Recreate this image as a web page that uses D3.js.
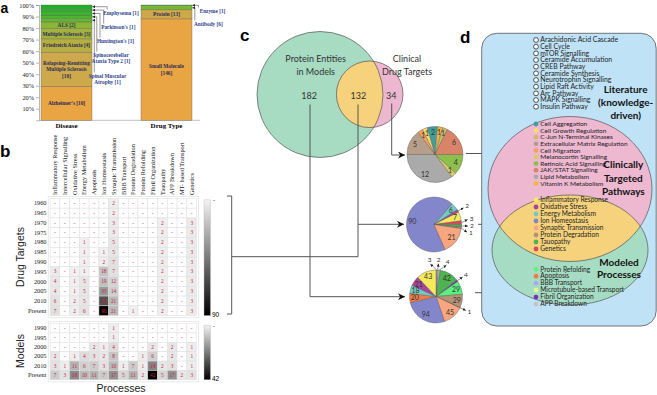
<!DOCTYPE html>
<html lang="en">
<head>
<meta charset="UTF-8">
<title>Disease models, drug targets and processes</title>
<script src="https://d3js.org/d3.v7.min.js"></script>
<style>
  body { margin: 0; background: #fff; }
  svg { display: block; }
</style>
</head>
<body>
<svg id="fig" width="657" height="395"></svg>
<script>
// ---- panel a data ----
const stackLabels = ["Disease", "Drug Type"];
const diseaseNames = ["Alzheimer's", "Relapsing-Remitting\nMultiple Sclerosis\n", "Friedreich Ataxia", "Multiple Sclerosis", "ALS",
  "Spinal Muscular\nAtrophy", "Spinocerebellar\nAtaxia Type 2", "Huntington's", "Parkinson's", "Emphysema"];
const diseaseCounts = [10, 10, 4, 3, 2, 1, 1, 1, 1, 1];
const drugTypeNames = ["Small Molecule\n", "Protein", "Antibody", "Enzyme"];
const drugTypeCounts = [146, 13, 6, 1];

// ---- panel b data ----
const processes = ["Inflammatory Response", "Intercellular Signalling", "Oxidative Stress", "Energy Metabolism", "Apoptosis",
  "Ion Homeostasis", "Synaptic Transmission", "BBB Transport", "Protein Degradation", "Protein Refolding",
  "Fibril Organization", "Tauopathy", "APP Breakdown", "MT- based Transport", "Genetics"];
const drugYears = ["1960", "1965", "1970", "1975", "1980", "1985", "1990", "1995", "2000", "2005", "2010", "Present"];
const drugCounts = [
  [0, 0, 0, 0, 0, 0, 2, 0, 0, 0, 0, 0, 0, 0, 0],
  [0, 0, 0, 0, 0, 0, 2, 0, 0, 0, 0, 0, 0, 0, 0],
  [0, 0, 0, 0, 0, 0, 3, 0, 0, 0, 0, 2, 0, 0, 3],
  [0, 0, 0, 0, 0, 0, 3, 0, 0, 0, 0, 2, 0, 0, 3],
  [0, 0, 0, 1, 0, 0, 5, 0, 0, 0, 0, 2, 0, 0, 3],
  [0, 0, 0, 1, 0, 1, 5, 0, 0, 0, 0, 2, 0, 0, 3],
  [0, 0, 0, 1, 0, 2, 7, 0, 0, 0, 0, 2, 0, 0, 3],
  [3, 0, 1, 1, 0, 18, 7, 0, 0, 0, 0, 2, 0, 0, 3],
  [4, 0, 1, 5, 0, 19, 12, 0, 0, 0, 0, 2, 0, 0, 3],
  [4, 0, 1, 5, 0, 33, 14, 0, 0, 0, 0, 2, 0, 0, 3],
  [6, 0, 2, 5, 0, 60, 21, 0, 0, 0, 0, 2, 0, 0, 3],
  [7, 0, 2, 6, 0, 90, 21, 0, 1, 0, 0, 2, 0, 0, 3]
];
const modelYears = ["1990", "1995", "2000", "2005", "2010", "Present"];
const modelCounts = [
  [0, 0, 0, 0, 0, 0, 1, 0, 0, 0, 0, 0, 0, 0, 0],
  [0, 0, 0, 0, 0, 0, 1, 0, 0, 0, 0, 0, 0, 0, 0],
  [0, 0, 0, 0, 2, 1, 4, 0, 0, 0, 2, 0, 2, 0, 1],
  [2, 0, 1, 4, 3, 2, 8, 0, 0, 1, 6, 0, 2, 0, 1],
  [3, 1, 11, 6, 7, 3, 10, 1, 7, 1, 19, 2, 3, 0, 1],
  [7, 3, 18, 10, 11, 7, 17, 5, 11, 2, 42, 5, 17, 2, 3]
];

// ---- panel c data ----
const vennLabels = [["Protein Entities", "in Models"], ["Clinical", "Drug Targets"]];
const vennCounts = [182, 132, 34]; // models only, shared, drug targets only
const pieDrugOnlyKeys = ["Retinoic Acid Signalling", "Melanocortin Signalling", "Lipid Metabolism", "Extracellular Matrix Regulation",
  "Cell Migration", "Cell Growth Regulation", "Cell Aggregation", "Vitamin K Metabolism", "C-Jun N-Terminal Kinases", "JAK/STAT Signalling"];
const pieDrugOnlyValues = [4, 1, 12, 5, 1, 1, 2, 1, 1, 6];
const pieSharedKeys = ["Ion Homeostasis", "Energy Metabolism", "Oxidative Stress", "Inflammatory Response", "Genetics", "Tauopathy",
  "Protein Degradation", "Synaptic Transmission"];
const pieSharedValues = [90, 6, 2, 7, 3, 2, 1, 21];
const pieModelKeys = ["BBB Transport", "Microtubule-based Transport", "APP Breakdown", "Tauopathy", "Fibril Organization", "Protein Refolding",
  "Protein Degradation", "Genetics", "Synaptic Transmission", "Ion Homeostasis", "Apoptosis", "Energy Metabolism", "Oxidative Stress",
  "Inflammatory Response"];
const pieModelValues = [3, 2, 4, 42, 4, 29, 29, 1, 45, 94, 20, 18, 21, 43];

// ---- panel d data ----
const literatureItems = ["Arachidonic Acid Cascade", "Cell Cycle", "mTOR Signalling", "Ceramide Accumulation", "CREB Pathway",
  "Ceramide Synthesis", "Neurotrophin Signalling", "Lipid Raft Activity", "Arc Pathway", "MAPK Signalling", "Insulin Pathway"];
const clinicalItems = ["Cell Aggregation", "Cell Growth Regulation", "C-Jun N-Terminal Kinases", "Extracellular Matrix Regulation",
  "Cell Migration", "Melanocortin Signalling", "Retinoic Acid Signalling", "JAK/STAT Signalling", "Lipid Metabolism", "Vitamin K Metabolism"];
const clinicalColors = ["#3f9f9c", "#f7dc6a", "#cdb86f", "#b59e8a", "#f5a15c", "#d9cb66", "#8dbf4d", "#d98468", "#aaaaaa", "#f4b63f"];
const sharedItems = ["Inflammatory Response", "Oxidative Stress", "Energy Metabolism", "Ion Homeostasis", "Synaptic Transmission",
  "Protein Degradation", "Tauopathy", "Genetics"];
const sharedColors = ["#f5ea5c", "#a8449c", "#72cbc2", "#8486cc", "#f8a67f", "#b59274", "#4fb34f", "#d94a5e"];
const modelItems = ["Protein Refolding", "Apoptosis", "BBB Transport", "Microtubule-based Transport", "Fibril Organization", "APP Breakdown"];
const modelColors = ["#5cf07f", "#f27c45", "#a9a9f2", "#dcf892", "#7234b2", "#c9c2c2"];

const serif = "'Liberation Serif','Times New Roman',serif";
const sans = "'Liberation Sans',Arial,sans-serif";
const lato = "Lato,'Open Sans',sans-serif";

const svg = d3.select("#fig");
const defs = svg.append("defs");
defs.append("marker").attr("id", "arr").attr("viewBox", "0 0 10 10").attr("refX", 10).attr("refY", 5)
  .attr("markerUnits", "userSpaceOnUse").attr("markerWidth", 10).attr("markerHeight", 7).attr("orient", "auto")
  .append("path").attr("d", "M0,0 L10,5 L0,10 L3,5 Z").attr("fill", "#111");
defs.append("marker").attr("id", "tiny").attr("viewBox", "0 0 10 10").attr("refX", 10).attr("refY", 5)
  .attr("markerUnits", "userSpaceOnUse").attr("markerWidth", 3).attr("markerHeight", 3).attr("orient", "auto")
  .append("path").attr("d", "M0,0 L10,5 L0,10 Z").attr("fill", "#222");

function letter(t, x, y, size) {
  svg.append("text").attr("x", x).attr("y", y).text(t)
    .style("font-family", sans).style("font-weight", "bold").style("font-size", (size || 17) + "px");
}

// ================= panel a =================
letter("a", 0.5, 13, 14);
const aY = d3.scaleLinear().domain([0, 1]).range([120.3, 5]);
const aX = d3.scaleBand().domain(stackLabels).range([41, 192]).paddingInner(0.49);
const diseaseColors = ["#e9a443", "#cda94b", "#b6ae40", "#a2b23c", "#8ab537", "#62b631", "#4cb52d", "#3ab42a", "#2ab327", "#1db224"];
const drugColors = ["#e9a443", "#cda94b", "#7bb634", "#2cb228"];

function stackOf(counts) {
  const total = d3.sum(counts);
  let acc = 0;
  return counts.map(c => { const s = acc / total; acc += c; return [s, acc / total]; });
}

const aAxis = svg.append("g").attr("transform", "translate(39,0)")
  .call(d3.axisLeft(aY).tickValues(d3.range(1, 11).map(d => d / 10)).tickFormat(d3.format(".0%")).tickSize(3).tickPadding(2));
aAxis.selectAll("text").style("font-family", serif).style("font-size", "6.3px").attr("fill", "#222");
aAxis.selectAll("line,path").attr("stroke", "#888").attr("stroke-width", 0.6);
svg.append("line").attr("x1", 39).attr("x2", 200).attr("y1", aY(0)).attr("y2", aY(0)).attr("stroke", "#999").attr("stroke-width", 0.6);

function drawStack(cat, names, counts, colors, callouts) {
  const segs = stackOf(counts);
  const x0 = aX(cat), w = aX.bandwidth();
  const g = svg.append("g");
  segs.forEach((s, i) => {
    g.append("rect").attr("x", x0).attr("y", aY(s[1])).attr("width", w).attr("height", aY(s[0]) - aY(s[1]))
      .attr("fill", colors[i]).attr("stroke", "#5a5a5a").attr("stroke-width", 0.35);
    const name = names[i];
    const lines = (name + (name.endsWith("\n") ? "" : " ") + "[" + counts[i] + "]").split("\n");
    const c = callouts[i];
    const mid = aY((s[0] + s[1]) / 2);
    if (!c) {
      lines.forEach((t, k) => g.append("text").attr("x", x0 + w / 2).attr("y", mid + 1.8 + (k - (lines.length - 1) / 2) * 6.6)
        .attr("text-anchor", "middle").text(t).attr("fill", "#2c2c55")
        .style("font-family", serif).style("font-weight", "bold").style("font-size", "5.3px"));
    } else {
      g.append("path").attr("d", `M${c.kx},${c.ly - 5} V${mid} H${x0 + w + 0.3}`).attr("fill", "none")
        .attr("stroke", "#333").attr("stroke-width", 0.5).attr("marker-end", "url(#tiny)");
      lines.forEach((t, k) => g.append("text").attr("x", c.lx).attr("y", c.ly + k * 6.6).attr("text-anchor", "middle")
        .text(t).attr("fill", "#2d3f8e").style("font-family", serif).style("font-weight", "bold").style("font-size", "5.3px"));
    }
  });
  svg.append("text").attr("x", x0 + w / 2).attr("y", 127.8).attr("text-anchor", "middle").text(cat)
    .style("font-family", serif).style("font-weight", "bold").style("font-size", "7px");
}
drawStack("Disease", diseaseNames, diseaseCounts, diseaseColors, {
  5: { lx: 107.5, ly: 77.5, kx: 94.3 }, 6: { lx: 111, ly: 56.5, kx: 96.8 }, 7: { lx: 115.5, ly: 42.5, kx: 100 },
  8: { lx: 118.3, ly: 28.5, kx: 103.7 }, 9: { lx: 121, ly: 14.5, kx: 107.2 }
});
drawStack("Drug Type", drugTypeNames, drugTypeCounts, drugColors, {
  2: { lx: 208.4, ly: 25.5, kx: 194.8 }, 3: { lx: 212.5, ly: 12.5, kx: 198.5 }
});

// ================= panel b =================
letter("b", 0, 157);
const bX = d3.scaleBand().domain(processes).range([50.1, 196.6]);
const bYd = d3.scaleBand().domain(drugYears).range([198.4, 315.6]);
const bYm = d3.scaleBand().domain(modelYears).range([323.6, 379.8]);

processes.forEach(p => {
  const cx = bX(p) + bX.bandwidth() / 2 + 2.2;
  svg.append("text").attr("transform", `translate(${cx},195) rotate(-90)`).text(p)
    .style("font-family", serif).style("font-size", "6.3px").attr("fill", "#222");
});

function heat(rows, counts, yS, legendId) {
  const maxV = d3.max(counts.flat());
  const color = d3.scaleLinear().domain([0, maxV]).range(["#f3f3f3", "#000"]);
  const [top, bottom] = yS.range();
  svg.append("rect").attr("x", 48.3).attr("y", top - 2).attr("width", 150.3).attr("height", bottom - top + 4)
    .attr("fill", "none").attr("stroke", "#e8e8e8").attr("stroke-width", 1);
  const g = svg.append("g");
  counts.forEach((row, i) => row.forEach((v, j) => {
    const x = bX(processes[j]), y = yS(rows[i]);
    g.append("rect").attr("x", x).attr("y", y).attr("width", bX.bandwidth()).attr("height", yS.bandwidth())
      .attr("fill", v ? color(v) : "#fff").attr("stroke", "#dedede").attr("stroke-width", 0.5);
    g.append("text").attr("x", x + bX.bandwidth() / 2).attr("y", y + yS.bandwidth() / 2 + 1.8)
      .attr("text-anchor", "middle").text(v ? v : "-").attr("fill", "#c8203a")
      .style("font-family", serif).style("font-size", "5.3px");
  }));
  rows.forEach(r => svg.append("text").attr("x", 46.5).attr("y", yS(r) + yS.bandwidth() / 2 + 2.1)
    .attr("text-anchor", "end").text(r).style("font-family", serif).style("font-size", "6.3px").attr("fill", "#222"));
  // colour bar
  const grad = defs.append("linearGradient").attr("id", legendId).attr("x1", 0).attr("x2", 0).attr("y1", 0).attr("y2", 1);
  d3.range(0, 1.0001, 0.1).forEach(t => grad.append("stop").attr("offset", t).attr("stop-color", color(t * maxV)));
  svg.append("rect").attr("x", 204).attr("y", top + 1.5).attr("width", 6.5).attr("height", bottom - top - 1.5)
    .attr("fill", `url(#${legendId})`).attr("stroke", "#bbb").attr("stroke-width", 0.4);
  svg.append("text").attr("x", 213).attr("y", top + 4).text("-").style("font-family", sans).style("font-size", "6px");
  svg.append("text").attr("x", 212).attr("y", bottom + 1.5).text(maxV).style("font-family", sans).style("font-size", "6.5px");
}
heat(drugYears, drugCounts, bYd, "gDrug");
heat(modelYears, modelCounts, bYm, "gModel");

svg.append("text").attr("transform", "translate(24,257) rotate(-90)").attr("text-anchor", "middle").text("Drug Targets")
  .style("font-family", sans).style("font-size", "10.5px").attr("fill", "#222");
svg.append("text").attr("transform", "translate(24,351) rotate(-90)").attr("text-anchor", "middle").text("Models")
  .style("font-family", sans).style("font-size", "10.5px").attr("fill", "#222");
svg.append("text").attr("x", 121).attr("y", 392).attr("text-anchor", "middle").text("Processes")
  .style("font-family", sans).style("font-size", "10.5px").attr("fill", "#222");

// ================= panel c =================
letter("c", 240, 40.5);
const vennGreen = "#a7dcc3", vennPink = "#edb7cf", vennYellow = "#f5d27b";
const cBig = { x: 320, y: 94.5, r: 63 }, cSmall = { x: 369.7, y: 94.3, r: 33.3 };
defs.append("clipPath").attr("id", "clipBig").append("circle").attr("cx", cBig.x).attr("cy", cBig.y).attr("r", cBig.r);
svg.append("circle").attr("cx", cBig.x).attr("cy", cBig.y).attr("r", cBig.r).attr("fill", vennGreen);
svg.append("circle").attr("cx", cSmall.x).attr("cy", cSmall.y).attr("r", cSmall.r).attr("fill", vennPink);
svg.append("circle").attr("cx", cSmall.x).attr("cy", cSmall.y).attr("r", cSmall.r).attr("fill", vennYellow).attr("clip-path", "url(#clipBig)");
[cBig, cSmall].forEach(c => svg.append("circle").attr("cx", c.x).attr("cy", c.y).attr("r", c.r)
  .attr("fill", "none").attr("stroke", "#555").attr("stroke-width", 0.7));
[[315.7, vennLabels[0]], [407, vennLabels[1]]].forEach(([x, ls]) => ls.forEach((t, k) =>
  svg.append("text").attr("x", x).attr("y", 61.7 + k * 13).attr("text-anchor", "middle").text(t)
    .style("font-family", lato).style("font-size", "9px").attr("fill", "#333")));
[309.2, 358.3, 391.3].forEach((x, i) => svg.append("text").attr("x", x).attr("y", 99.3).attr("text-anchor", "middle")
  .text(vennCounts[i]).style("font-family", lato).style("font-size", "9px").attr("fill", "#333"));

const link = (d, arrow) => svg.append("path").attr("d", d).attr("fill", "none").attr("stroke", "#555").attr("stroke-width", 1)
  .attr("marker-end", arrow ? "url(#arr)" : null);
link("M391.7,103.5 V155 H405", true);
link("M227,196 H231.7 V314 H227", false);
link("M231.7,256.7 H358 V104.5", false);
link("M358,224.3 H404", true);
link("M310,104.5 V296.7 H405", true);

const colorOf = new Map();
clinicalItems.forEach((k, i) => colorOf.set(k, clinicalColors[i]));
sharedItems.forEach((k, i) => colorOf.set(k, sharedColors[i]));
modelItems.forEach((k, i) => colorOf.set(k, modelColors[i]));

function drawPie(cx, cy, r, keys, values, startDeg, gapDeg) {
  const total = d3.sum(values);
  const a0 = startDeg * Math.PI / 180;
  const arcs = d3.pie().sort(null).value(d => d.v).startAngle(a0).endAngle(a0 + 2 * Math.PI)(keys.map((k, i) => ({ k, v: values[i] })));
  const arc = d3.arc().innerRadius(0).outerRadius(r);
  const g = svg.append("g").attr("transform", `translate(${cx},${cy})`);
  g.selectAll("path").data(arcs).join("path").attr("d", arc).attr("fill", d => colorOf.get(d.data.k))
    .attr("stroke", "#555").attr("stroke-width", 0.4);
  const pt = (ang, rad) => [Math.sin(ang) * rad, -Math.cos(ang) * rad];
  const inner = arcs.filter(d => d.data.v / total >= 0.025);
  inner.forEach(d => {
    const [x, y] = pt((d.startAngle + d.endAngle) / 2, r * 0.8);
    g.append("text").attr("x", x).attr("y", y + 2.4).attr("text-anchor", "middle").text(d.data.v)
      .style("font-family", lato).style("font-size", "7px").attr("fill", "#333");
  });
  // small slices get callouts, spread apart in clusters
  const small = arcs.filter(d => d.data.v / total < 0.025).map(d => ({ d, mid: (d.startAngle + d.endAngle) / 2 }));
  const gap = gapDeg * Math.PI / 180;
  const clusters = [];
  small.forEach(s => {
    const last = clusters[clusters.length - 1];
    if (last && s.mid - last[last.length - 1].mid < gap) last.push(s); else clusters.push([s]);
  });
  clusters.forEach(cl => {
    const m = d3.mean(cl, s => s.mid);
    cl.forEach((s, i) => { s.lab = m + (i - (cl.length - 1) / 2) * gap; });
  });
  small.forEach(s => {
    const [x1, y1] = pt(s.mid, r);
    const [x2, y2] = pt(s.lab, r + 6.5);
    const [tx, ty] = pt(s.lab, r + 10.5);
    g.append("line").attr("x1", x1).attr("y1", y1).attr("x2", x2).attr("y2", y2).attr("stroke", "#333")
      .attr("stroke-width", 0.5).attr("marker-end", "url(#tiny)");
    g.append("text").attr("x", tx).attr("y", ty + 2.2).attr("text-anchor", "middle").text(s.d.data.v)
      .style("font-family", lato).style("font-size", "6.5px").attr("fill", "#333");
  });
}
drawPie(435, 154.5, 28, pieDrugOnlyKeys, pieDrugOnlyValues, 90, 10);
drawPie(434, 224.5, 27.5, pieSharedKeys, pieSharedValues, 156, 11);
drawPie(436, 296.5, 26.5, pieModelKeys, pieModelValues, 0, 14);

link("M466,153.5 H493", true);
link("M478,224.3 H495", true);
link("M475,292.7 H497", true);

// ================= panel d =================
letter("d", 460, 43.3);
svg.append("rect").attr("x", 481.7).attr("y", 33.3).attr("width", 174.5).attr("height", 292.7).attr("rx", 15)
  .attr("fill", "#bfe2f6").attr("stroke", "#555").attr("stroke-width", 0.8);
const ePink = { cx: 570, cy: 189, rx: 82, ry: 72.5 }, eGreen = { cx: 570, cy: 250, rx: 78, ry: 55 };
defs.append("clipPath").attr("id", "clipGreen").append("ellipse").attr("cx", eGreen.cx).attr("cy", eGreen.cy)
  .attr("rx", eGreen.rx).attr("ry", eGreen.ry);
const ell = (e, fill) => svg.append("ellipse").attr("cx", e.cx).attr("cy", e.cy).attr("rx", e.rx).attr("ry", e.ry).attr("fill", fill);
ell(ePink, "#edb8d0");
ell(eGreen, "#a7dcc4");
ell(ePink, vennYellow).attr("clip-path", "url(#clipGreen)");
ell(ePink, "none").attr("stroke", "#555").attr("stroke-width", 0.7);
ell(eGreen, "none").attr("stroke", "#555").attr("stroke-width", 0.7);

function list(items, colors, y0, step, size) {
  items.forEach((t, i) => {
    const y = y0 + i * step;
    svg.append("circle").attr("cx", 536).attr("cy", y).attr("r", 2.4)
      .attr("fill", colors ? colors[i] : "#fff").attr("stroke", colors ? "none" : "#111").attr("stroke-width", 0.7);
    svg.append("text").attr("x", 540.3).attr("y", y + 2.2).text(t)
      .style("font-family", lato).style("font-size", size + "px").attr("fill", "#222");
  });
}
list(literatureItems, null, 40, 6.67, 6.9);
list(clinicalItems, clinicalColors, 124, 6.6, 6.5);
list(sharedItems, sharedColors, 200, 7, 6.6);
list(modelItems, modelColors, 269.3, 6.95, 6.6);

function title(lines, x, y0, step) {
  lines.forEach((t, k) => svg.append("text").attr("x", x).attr("y", y0 + k * step).attr("text-anchor", "middle").text(t)
    .style("font-family", lato).style("font-weight", "bold").style("font-size", "10px").attr("fill", "#111"));
}
title(["Literature", "(knowledge-", "driven)"], 625.7, 93.3, 13);
title(["Clinically", "Targeted", "Pathways"], 623.3, 168.3, 13.3);
title(["Modeled", "Processes"], 619, 265.7, 12.7);
</script>
</body>
</html>
